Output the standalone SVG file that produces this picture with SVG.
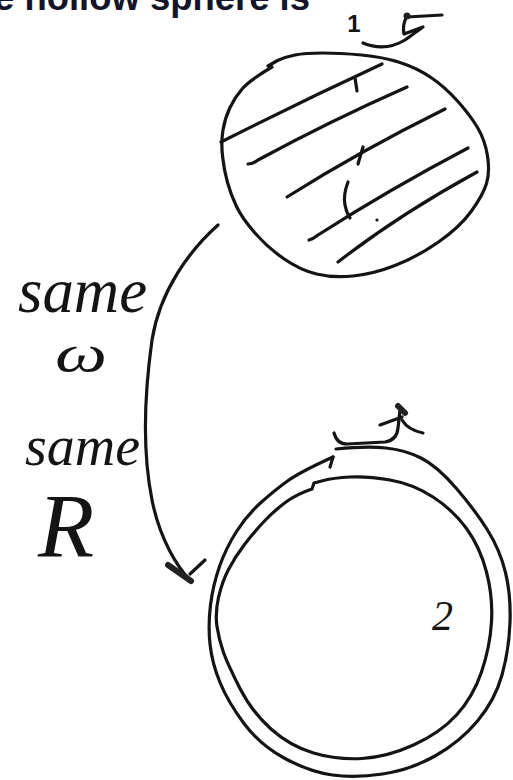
<svg xmlns="http://www.w3.org/2000/svg" width="513" height="780" viewBox="0 0 513 780">
<style>
.ink{fill:none;stroke:#141414;stroke-width:3.2;stroke-linecap:round;stroke-linejoin:round}
.thick{fill:none;stroke:#222;stroke-width:6;stroke-linecap:round}
.hand{font-family:"Liberation Serif","DejaVu Serif",serif;font-style:italic;fill:#141414}
.title{font-family:"Liberation Sans",Arial,sans-serif;font-weight:bold;fill:#15152a}
</style>
<rect width="513" height="780" fill="#ffffff"/>
<g id="title">
<text class="title" x="-6" y="10" font-size="36" textLength="316" lengthAdjust="spacingAndGlyphs">e hollow sphere is</text>
</g>
<g id="sphere1">
<path class="ink" d="M272,67 Q250,80 242.5,88.5 Q235,97 230,107.5 Q225,118 223,130 Q221,142 222.5,156 Q224,170 227.5,182.5 Q231,195 236.5,206.5 Q242,218 254.5,232.5 Q267,247 283.5,258.5 Q300,270 316.5,274 Q333,278 353,276 Q373,274 395,265.5 Q417,257 438.5,242 Q460,227 471.5,211 Q483,195 486.5,183.5 Q490,172 487.5,156 Q485,140 477.5,127.5 Q470,115 457.5,101 Q445,87 431,77.5 Q417,68 400,62.5 Q383,57 361.5,55 Q340,53 322.5,53 Q305,53 295,55 Q285,57 277.5,60.5 L268,66"/>
<path class="ink" d="M221,142 Q300,102 382,64"/>
<path class="ink" d="M248,164 Q253,164 258,160 Q330,121 407,87"/>
<path class="ink" d="M287,197 Q360,151 445,109"/>
<path class="ink" d="M309,240 Q313,239 318,235 Q390,189 468,148"/>
<path class="ink" d="M338,262 Q400,214 477,172"/>
<path class="ink" d="M355,78 L357,91"/>
<path class="ink" d="M363,147 L358,164"/>
<path class="ink" d="M348,182 Q343,195 345,205 Q346,212 350,218"/>
<circle cx="377" cy="220" r="1.6" fill="#141414"/>
<text x="354" y="32" font-family="Liberation Sans, Arial, sans-serif" font-weight="bold" font-size="24" text-anchor="middle" fill="#141414">1</text>
<path class="ink" d="M363,43 Q385,52 405,40 L423,27 L404,34 Q402,25 407,16"/>
<path class="ink" d="M407,17 L442,15"/>
<circle cx="407" cy="16" r="3.5" fill="#222"/>
</g>
<g id="connectors">
<path class="ink" d="M218,225 C190,250 160,290 152,340 C145,390 142,450 152,500 C160,540 178,568 190,580"/>
<path class="thick" d="M168,565 L191,581"/>
<path class="ink" d="M190,574 L205,560"/>
</g>
<g id="labels">
<text class="hand" x="18" y="312" font-size="64" textLength="129" lengthAdjust="spacingAndGlyphs">same</text>
<text class="hand" x="55" y="371" font-size="52" textLength="52" lengthAdjust="spacingAndGlyphs">ω</text>
<text class="hand" x="25" y="465" font-size="58" textLength="115" lengthAdjust="spacingAndGlyphs">same</text>
<text class="hand" x="38" y="557" font-size="92">R</text>
</g>
<g id="sphere2">
<path class="ink" d="M333,457 Q300,472 287.5,481 Q275,490 261,502.5 Q247,515 236.5,531.5 Q226,548 219.5,566.5 Q213,585 210.5,605 Q208,625 210,644 Q212,663 220,682.5 Q228,702 244,723.5 Q260,745 285,758.5 Q310,772 332.5,775 Q355,778 382.5,774 Q410,770 435,756 Q460,742 477.5,721 Q495,700 502,675 Q509,650 510,622.5 Q511,595 505.5,572.5 Q500,550 487.5,530 Q475,510 456,488 Q437,466 421,458 Q405,450 386,448 Q367,446 336,449"/>
<path class="ink" d="M333,457 L330,467"/>
<path class="ink" d="M312,489 Q297,494 286,502 Q275,510 264.5,521 Q254,532 244.5,544.5 Q235,557 228.5,569.5 Q222,582 218.5,597.5 Q215,613 217,626.5 Q219,640 223.5,652.5 Q228,665 240,688.5 Q252,712 271,729 Q290,746 313.5,753 Q337,760 362,758.5 Q387,757 413.5,745 Q440,733 456.5,715 Q473,697 481.5,672 Q490,647 491.5,622 Q493,597 486.5,572 Q480,547 466.5,528.5 Q453,510 433,497 Q413,484 390,480 Q367,476 350,477 Q333,478 323.5,480.5 L314,483 L312,489"/>
<path class="ink" d="M334,433 Q337,444 347,444 L385,442 Q397,440 398,428 L400,410"/>
<path class="thick" d="M398,406 L405,413"/>
<path class="ink" d="M380,425 L402,417"/>
<path class="ink" d="M402,420 Q408,430 423,433"/>
<text class="hand" x="432" y="630" font-size="42">2</text>
</g>
</svg>
